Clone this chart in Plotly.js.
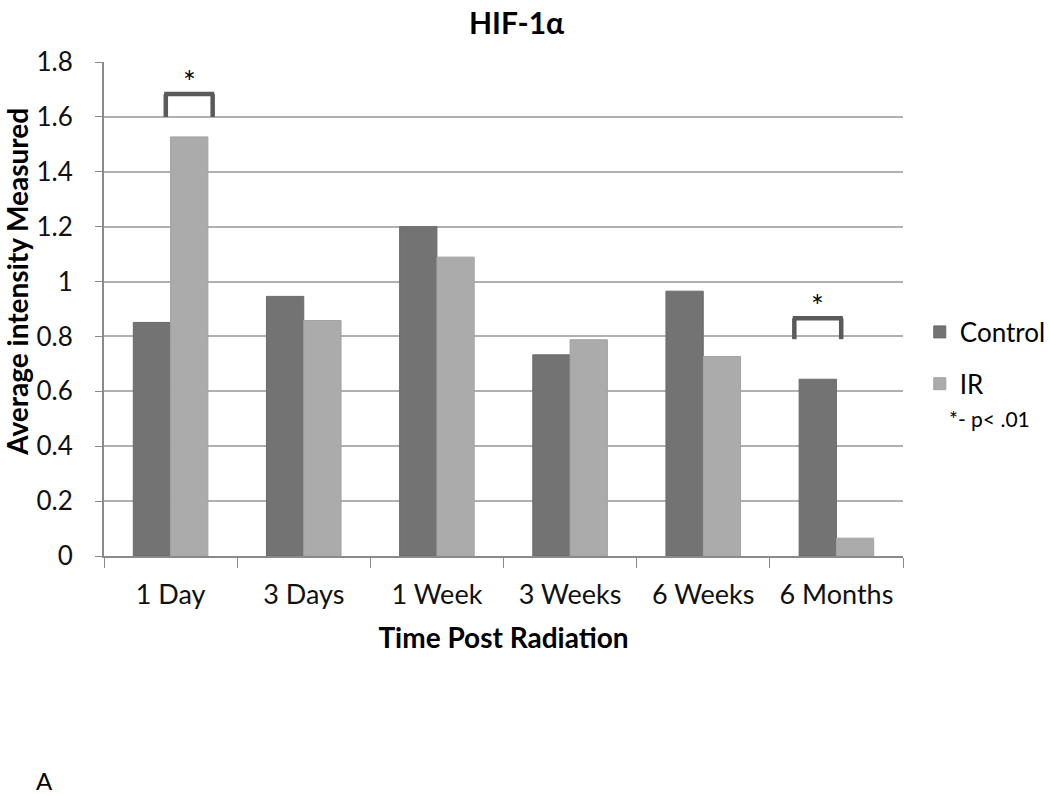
<!DOCTYPE html>
<html>
<head>
<meta charset="utf-8">
<script src="https://cdn.plot.ly/plotly-3.0.1.min.js"></script>
<style>
  html, body { margin: 0; padding: 0; background: #fff; }
  #plot { width: 1050px; height: 796px; }
</style>
</head>
<body>
<div id="plot"></div>
<script>
var categories = ['1 Day', '3 Days', '1 Week', '3 Weeks', '6 Weeks', '6 Months'];
var controlValues = [0.851, 0.946, 1.2, 0.733, 0.965, 0.644];
var irValues = [1.527, 0.858, 1.089, 0.788, 0.727, 0.065];

// significance brackets: which category, over which series, bracket feet / top
var sigCategories = ['1 Day', '6 Months'];
var sigSeries = ['IR', 'Control'];
var sigLow = [1.6, 0.79];
var sigHigh = [1.683, 0.866];

var fontFam = 'Lato, "Open Sans", sans-serif';
var bracketColor = '#5a5a5a';

var traceControl = {
  x: categories,
  y: controlValues,
  name: 'Control',
  type: 'bar',
  legendgroup: 'c',
  marker: { color: '#737373', line: { color: '#6a6a6a', width: 1 } },
  hoverinfo: 'x+y'
};

var traceIR = {
  x: categories,
  y: irValues,
  name: 'IR',
  type: 'bar',
  legendgroup: 'i',
  marker: { color: '#ababab', line: { color: '#a2a2a2', width: 1 } },
  hoverinfo: 'x+y'
};

var shapes = [];
var annotations = [];
var barOffset = 0.14;
var halfW = 0.176;

for (var i = 0; i < sigCategories.length; i++) {
  var c = categories.indexOf(sigCategories[i]);
  var mid = c + (sigSeries[i] === 'IR' ? barOffset : -barOffset);
  var x0 = mid - halfW;
  var x1 = mid + halfW;
  var ln = { color: bracketColor, width: 4.5 };
  shapes.push({ type: 'line', xref: 'x', yref: 'y', x0: x0, x1: x0, y0: sigLow[i], y1: sigHigh[i], line: ln });
  shapes.push({ type: 'line', xref: 'x', yref: 'y', x0: x1, x1: x1, y0: sigLow[i], y1: sigHigh[i], line: ln });
  shapes.push({ type: 'line', xref: 'x', yref: 'y', x0: x0 - 0.012, x1: x1 + 0.012, y0: sigHigh[i], y1: sigHigh[i], line: ln });
  annotations.push({
    x: mid, y: sigHigh[i], xref: 'x', yref: 'y',
    text: '*', showarrow: false, yanchor: 'middle', yshift: 13,
    font: { family: fontFam, size: 30, color: '#000' }
  });
}

// y axis title, set as annotation so it can sit a little above the axis centre
annotations.push({
  xref: 'paper', yref: 'paper', x: -0.109, y: 0.555,
  xanchor: 'center', yanchor: 'middle', showarrow: false,
  textangle: -90,
  text: '<b>Average intensity Measured</b>',
  font: { family: fontFam, size: 28, color: '#000' }
});
annotations.push({
  xref: 'paper', yref: 'paper', x: 1.055, y: 0.279,
  xanchor: 'left', yanchor: 'middle', showarrow: false,
  text: '*- p< .01',
  font: { family: fontFam, size: 21, color: '#000' }
});
annotations.push({
  xref: 'paper', yref: 'paper', x: -0.088, y: -0.455,
  xanchor: 'left', yanchor: 'middle', showarrow: false,
  text: 'A',
  font: { family: fontFam, size: 24, color: '#000' }
});

var layout = {
  width: 1050,
  height: 796,
  margin: { l: 104, r: 147, t: 62, b: 240, autoexpand: false },
  paper_bgcolor: '#fff',
  plot_bgcolor: '#fff',
  barmode: 'group',
  bargap: 0.44,
  bargroupgap: 0,
  title: {
    text: '<b>HIF-1α</b>',
    x: 0.492, xanchor: 'center', y: 0.97, yanchor: 'middle',
    font: { family: fontFam, size: 30, color: '#000' }
  },
  xaxis: {
    type: 'category',
    tickson: 'boundaries',
    ticks: 'outside',
    ticklen: 10,
    tickcolor: '#8a8a8a',
    ticklabelstandoff: 14,
    showline: true,
    linecolor: '#8a8a8a',
    linewidth: 2,
    showgrid: false,
    tickfont: { family: fontFam, size: 27, color: '#111' },
    title: {
      text: '<b>Time Post Radiation</b>',
      standoff: 19,
      font: { family: fontFam, size: 28, color: '#000' }
    }
  },
  yaxis: {
    range: [0, 1.8],
    dtick: 0.2,
    ticks: 'outside',
    ticklen: 7,
    tickcolor: '#8a8a8a',
    ticklabelstandoff: 17,
    showline: true,
    linecolor: '#8a8a8a',
    linewidth: 2,
    gridcolor: '#b0b0b0',
    gridwidth: 2,
    zeroline: false,
    tickfont: { family: fontFam, size: 26, color: '#111' }
  },
  legend: {
    x: 1.021, xanchor: 'left',
    y: 0.501, yanchor: 'top',
    traceorder: 'grouped',
    tracegroupgap: 15,
    font: { family: fontFam, size: 26, color: '#000' },
    bgcolor: 'rgba(0,0,0,0)'
  },
  shapes: shapes,
  annotations: annotations,
  showlegend: true
};

Plotly.newPlot('plot', [traceControl, traceIR], layout, { displayModeBar: false });
</script>
</body>
</html>
